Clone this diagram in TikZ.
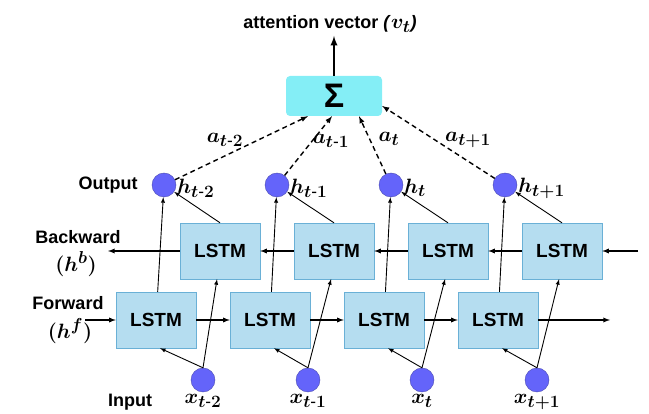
\documentclass[tikz,border=0pt]{standalone}
\usepackage{amsmath}
\usepackage{amssymb}
\usepackage{fontspec}
\setmainfont{Liberation Sans}
\usetikzlibrary{arrows,positioning}
\DeclareMathSizes{20.74}{20.74}{17.28}{14.4}

\definecolor{lstmfill}{HTML}{B5DDF0}
\definecolor{lstmedge}{HTML}{6AB0D6}
\definecolor{unitfill}{HTML}{6464FA}
\definecolor{unitedge}{HTML}{4A4AB0}
\definecolor{sumfill}{HTML}{84EEF6}

\tikzset{
  lstm/.style={draw=lstmedge,fill=lstmfill,minimum width=80pt,minimum height=56pt,inner sep=0pt,font=\fontsize{19}{22}\selectfont\bfseries},
  unit/.style={circle,draw=unitedge,fill=unitfill,minimum size=24pt,inner sep=0pt},
  sumbox/.style={fill=sumfill,rounded corners=4pt,minimum width=96pt,minimum height=40pt,inner sep=0pt,font=\fontsize{34}{36}\selectfont\bfseries},
  lbl/.style={font=\fontsize{18}{21}\selectfont\bfseries},
  sub/.style={font=\huge\boldmath,inner sep=1pt},
  flow/.style={->,line width=1.3pt},
  feed/.style={->,line width=0.9pt},
  att/.style={->,dash pattern=on 5pt off 3.5pt,line width=1.4pt},
}

\begin{document}
\begin{tikzpicture}[x=1pt,y=-1pt,>=latex]
        \useasboundingbox (0,0) rectangle (649,414);
        \foreach \k/\fx/\bx/\ox/\ix/\sb in {1/156/220/164/203/{t\text{-}2},2/270/334/277/308/{t\text{-}1},3/384/448/391/422/t,4/498/562/505/537/{t+1}} {
            \node[lstm] (f\k) at (\fx,320) {LSTM};
            \node[lstm] (b\k) at (\bx,251) {LSTM};
            \node[unit] (o\k) at (\ox,185) {};
            \node[unit] (i\k) at (\ix,380) {};
            \node[sub,anchor=west] (h\k) at ([yshift=-3pt]o\k.east) {$h_{\sb}$};
            \node[sub,anchor=north] (x\k) at ([yshift=-1pt]i\k.south) {$x_{\sb}$};
        }
        \node[sumbox] (s) at (334,96) {Σ};
        \node[lbl] (title) at (330,24) {attention vector \textit{(}{\huge\boldmath$v_t$}\textit{)}};
        \node[lbl] (outl) at (108,185) {Output};
        \node[lbl] (backl) at (78,237) {Backward};
        \node[sub] (hb) at (76,264) {$(h^{b})$};
        \node[lbl] (forl) at (68,303) {Forward};
        \node[sub] (hf) at (70,331) {$(h^{f})$};
        \node[lbl] (inl) at (130,402) {Input};
        \node[sub] (a1) at (225,140) {$a_{t\text{-}2}$};
        \node[sub] (a2) at (331,141) {$a_{t\text{-}1}$};
        \node[sub] (a3) at (389,139) {$a_{t}$};
        \node[sub] (a4) at (468,140) {$a_{t+1}$};
        \coordinate (fin) at (85,320);
        \coordinate (fout) at (610,320);
        \coordinate (bin) at (638,251);
        \coordinate (bout) at (108,251);
        \draw[flow] (fin) -- (f1);
        \draw[flow] (f1) -- (f2);
        \draw[flow] (f2) -- (f3);
        \draw[flow] (f3) -- (f4);
        \draw[flow] (f4) -- (fout);
        \draw[flow] (bin) -- (b4);
        \draw[flow] (b4) -- (b3);
        \draw[flow] (b3) -- (b2);
        \draw[flow] (b2) -- (b1);
        \draw[flow] (b1) -- (bout);
        \foreach \k in {1,...,4} {
            \draw[feed] (f\k) -- (o\k);
            \draw[feed] (b\k.north) -- (o\k);
            \draw[feed] (i\k.north) -- ([xshift=4pt]f\k.south);
            \draw[feed] (i\k.north) -- ([xshift=-3pt]b\k.south);
        }
        \draw[att] (o1) -- ([xshift=-26pt]s.south);
        \draw[att] (o2) -- ([xshift=-2pt]s.south);
        \draw[att] (o3) -- ([xshift=25pt]s.south);
        \draw[att] (o4) -- ([yshift=-10pt]s.east);
        \draw[->,line width=2.2pt] (s.north) -- (s.north |- title.south);
\end{tikzpicture}
\end{document}
